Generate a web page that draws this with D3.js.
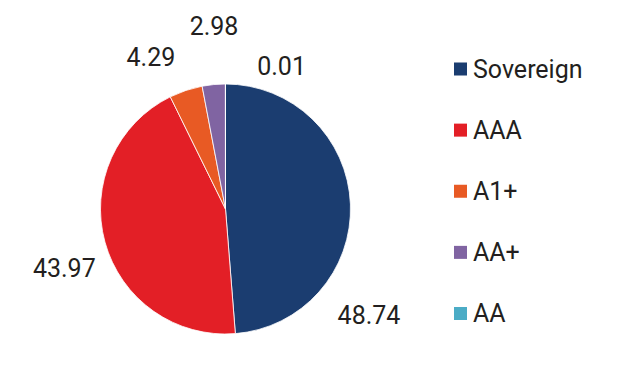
<!DOCTYPE html>
<html><head><meta charset="utf-8">
<script src="https://cdn.jsdelivr.net/npm/d3@7"></script>
<style>html,body{margin:0;padding:0;background:#fff;}svg{display:block;font-family:Roboto,"Noto Sans",sans-serif;}</style>
</head><body>
<script>
const categories = ["Sovereign", "AAA", "A1+", "AA+", "AA"];
const values = [48.74, 43.97, 4.29, 2.98, 0.01];
const valueLabels = ["48.74", "43.97", "4.29", "2.98", "0.01"];
const colors = ["#1B3D70", "#E31F26", "#E85A24", "#8064A2", "#4BACC6"];

// label placement (polar, degrees clockwise from 12 o'clock, radius px)
const labelAngles = [126.7, 249.6, 333.8, 356.4, 21.5];
const labelRadii = [179, 172, 169, 183, 153];

const W = 618, H = 380;
const cx = 225.5, cy = 209, R = 125;

const svg = d3.select("body").append("svg").attr("width", W).attr("height", H);
const g = svg.append("g").attr("transform", `translate(${cx},${cy})`);

const pie = d3.pie().sort(null).value(d => d.v);
const data = categories.map((c, i) => ({ c, v: values[i], i }));
const arcs = pie(data);
const arc = d3.arc().innerRadius(0).outerRadius(R);

g.selectAll("path").data(arcs).enter().append("path")
  .attr("d", arc)
  .attr("fill", d => colors[d.data.i])
  .attr("stroke", "#fff").attr("stroke-width", 0.8);

g.selectAll("text.lbl").data(arcs).enter().append("text")
  .attr("class", "lbl")
  .attr("x", d => labelRadii[d.data.i] * Math.sin(labelAngles[d.data.i] * Math.PI / 180))
  .attr("y", d => -labelRadii[d.data.i] * Math.cos(labelAngles[d.data.i] * Math.PI / 180))
  .attr("text-anchor", "middle").attr("dominant-baseline", "central")
  .attr("font-size", 25).attr("fill", "#231F20")
  .text(d => valueLabels[d.data.i]);

const leg = svg.append("g");
const ly = d3.scalePoint().domain(categories).range([69, 313.5]);
const items = leg.selectAll("g").data(categories).enter().append("g")
  .attr("transform", d => `translate(454,${ly(d)})`);
items.append("rect").attr("x", 0).attr("y", -6.5).attr("width", 13).attr("height", 13)
  .attr("fill", (d, i) => colors[i]);
items.append("text").attr("x", 19).attr("y", 0).attr("dominant-baseline", "central")
  .attr("font-size", 25).attr("fill", "#231F20").text(d => d);
</script>
</body></html>
